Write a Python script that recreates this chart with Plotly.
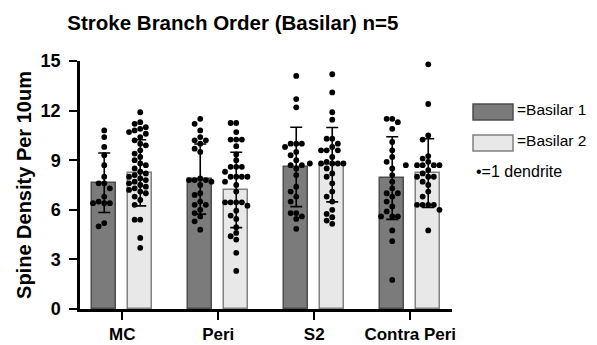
import plotly.graph_objects as go
import numpy as np

categories = ["MC", "Peri", "S2", "Contra Peri"]
series_names = ["Basilar 1", "Basilar 2"]

mean_b1 = [7.64, 7.86, 8.59, 7.92]
sd_b1 = [1.80, 2.12, 2.40, 2.50]
mean_b2 = [8.24, 7.20, 8.73, 8.22]
sd_b2 = [2.00, 2.28, 2.25, 2.08]

pts_b1 = [
    [10.8, 10.4, 9.8, 9.3, 8.7, 8.0, 7.6, 7.6, 7.3, 6.8, 6.4, 6.4, 6.4, 6.5, 5.2, 5.0],
    [11.5, 11.2, 10.8, 10.4, 10.2, 10.2, 10.0, 9.7, 9.5, 7.9, 7.8, 7.8, 7.8, 7.7,
     7.5, 7.0, 6.9, 6.5, 6.3, 6.3, 6.0, 5.8, 5.6, 5.3, 4.8],
    [14.1, 12.7, 12.2, 10.0, 10.0, 10.0, 9.8, 9.5, 9.3, 9.0, 8.7, 8.7, 8.5, 8.1,
     7.4, 7.1, 6.8, 6.5, 5.8, 5.8, 5.6, 5.45, 4.85],
    [11.5, 11.5, 11.3, 10.9, 10.1, 9.6, 9.2, 8.9, 8.5, 8.1, 7.7, 7.3, 7.0, 7.0,
     6.8, 6.5, 6.2, 5.9, 5.6, 5.6, 5.6, 4.75, 4.1, 1.76],
]
pts_b2 = [
    [11.9, 11.3, 11.2, 11.0, 10.9, 10.8, 10.7, 10.6, 10.4, 10.2, 10.0, 9.9, 9.6,
     9.4, 9.2, 9.0, 8.8, 8.7, 8.5, 8.3, 8.2, 8.1, 8.0, 7.9, 7.8, 7.7, 7.6, 7.5,
     7.4, 7.3, 7.2, 7.1, 7.0, 6.8, 6.6, 6.3, 5.4, 5.4, 4.3, 3.7],
    [11.25, 11.25, 10.7, 10.25, 10.25, 10.25, 9.85, 9.35, 9.0, 8.6, 8.6, 8.6, 8.3,
     8.0, 8.0, 8.0, 8.0, 7.7, 7.5, 7.1, 6.45, 6.45, 6.45, 6.45, 6.25, 5.95, 5.65,
     5.45, 4.95, 4.6, 4.4, 4.2, 3.4, 2.3],
    [14.2, 13.1, 11.9, 11.45, 10.3, 10.3, 10.0, 9.8, 9.6, 9.6, 9.6, 9.2, 8.9, 8.8,
     8.8, 8.8, 8.8, 8.8, 8.5, 8.2, 8.0, 7.6, 7.1, 6.8, 6.5, 6.0, 5.75, 5.55, 5.35, 5.15],
    [14.8, 12.4, 10.5, 10.25, 9.25, 9.1, 8.9, 8.7, 8.7, 8.7, 8.7, 8.7, 8.4, 8.2,
     8.0, 8.0, 8.0, 7.7, 7.5, 7.1, 6.8, 6.3, 6.3, 6.3, 6.3, 6.0, 4.75],
]

# geometry helpers (pixel scale used only for swarm spacing)
W, H = 597, 345
ML, MR, MT, MB = 80, 145, 61, 36
XR = [-0.44, 3.435]
YR = [0, 15]
pxx = (W - ML - MR) / (XR[1] - XR[0])
pxy = (H - MT - MB) / (YR[1] - YR[0])
OFF = 0.1875
BW = 0.25
DIAM = 5.6


def swarm(center, vals):
    placed = []
    xs = [0.0] * len(vals)
    order = sorted(range(len(vals)), key=lambda i: -vals[i])
    for i in order:
        v = vals[i]
        k = 0
        while True:
            cands = [0.0] if k == 0 else [-k * DIAM, k * DIAM]
            ok_c = None
            for c in cands:
                if all((c - px) ** 2 + ((v - pv) * pxy) ** 2 >= DIAM ** 2 for px, pv in placed):
                    ok_c = c
                    break
            if ok_c is not None:
                placed.append((ok_c, v))
                xs[i] = center + ok_c / pxx
                break
            k += 1
    return xs


xi = np.arange(len(categories))
fig = go.Figure()
fills = ["#7b7b7b", "#e8e8e8"]
lines = ["#4d4d4d", "#808080"]
for s, (means, sds, pts, sign) in enumerate([(mean_b1, sd_b1, pts_b1, -1), (mean_b2, sd_b2, pts_b2, 1)]):
    xpos = xi + sign * OFF
    fig.add_trace(go.Bar(
        x=xpos, y=means, width=BW, name=series_names[s],
        marker=dict(color=fills[s], line=dict(color=lines[s], width=1.5)),
        error_y=dict(type="data", array=sds, visible=True, color="black", thickness=1.6, width=6),
        showlegend=False,
    ))
for s, (pts, sign) in enumerate([(pts_b1, -1), (pts_b2, 1)]):
    for c in range(len(categories)):
        xs = swarm(c + sign * OFF, pts[c])
        fig.add_trace(go.Scatter(
            x=xs, y=pts[c], mode="markers",
            marker=dict(color="black", size=5.8, line=dict(width=0)),
            showlegend=False, cliponaxis=False, hoverinfo="y",
        ))

font_main = "Liberation Sans, Arial, Helvetica, sans-serif"
fig.update_layout(
    width=W, height=H,
    margin=dict(l=ML, r=MR, t=MT, b=MB),
    paper_bgcolor="white", plot_bgcolor="white",
    font=dict(family=font_main, color="black"),
    title=dict(text="<b>Stroke Branch Order (Basilar) n=5</b>", x=0.39, xanchor="center",
               y=0.935, yanchor="middle", yref="container", font=dict(size=20.5, color="black")),
    bargap=0, showlegend=False,
)
fig.update_xaxes(
    range=XR, tickmode="array", tickvals=list(xi),
    ticktext=["<b>%s</b>" % c for c in categories],
    showline=True, linecolor="black", linewidth=2.5, ticks="outside", ticklen=8,
    tickwidth=2, tickcolor="black", showgrid=False, zeroline=False,
    tickfont=dict(size=17, color="black"), automargin=False,
)
fig.update_yaxes(
    range=YR, tickmode="array", tickvals=[0, 3, 6, 9, 12, 15],
    ticktext=["<b>%d</b>" % v for v in [0, 3, 6, 9, 12, 15]],
    showline=True, linecolor="black", linewidth=2.5, ticks="outside", ticklen=8,
    tickwidth=2, tickcolor="black", showgrid=False, zeroline=False,
    tickfont=dict(size=18, color="black"), ticklabelstandoff=5, automargin=False,
    title=dict(text="<b>Spine Density Per 10um</b>", font=dict(size=20, color="black"), standoff=4),
)

# legend drawn as shapes + text
leg = [(fills[0], lines[0], "=Basilar 1", 104, 120), (fills[1], lines[1], "=Basilar 2", 135, 151)]
for fc, lc, txt, y0, y1 in leg:
    fig.add_shape(type="rect", xref="paper", yref="paper",
                  x0=(473 - ML) / (W - ML - MR), x1=(513 - ML) / (W - ML - MR),
                  y0=1 - (y1 - MT) / (H - MT - MB), y1=1 - (y0 - MT) / (H - MT - MB),
                  fillcolor=fc, line=dict(color=lc, width=1.5))
    fig.add_annotation(xref="paper", yref="paper", x=(515 - ML) / (W - ML - MR),
                       y=1 - ((y0 + y1) / 2 - 3 - MT) / (H - MT - MB), xanchor="left", yanchor="middle",
                       text=txt, showarrow=False, font=dict(size=15.5, color="black"))
fig.add_annotation(xref="paper", yref="paper", x=(474 - ML) / (W - ML - MR),
                   y=1 - (171 - MT) / (H - MT - MB), xanchor="left", yanchor="middle",
                   text="\u2022=1 dendrite", showarrow=False, font=dict(size=16, color="black"))

fig.write_html("out.html")
